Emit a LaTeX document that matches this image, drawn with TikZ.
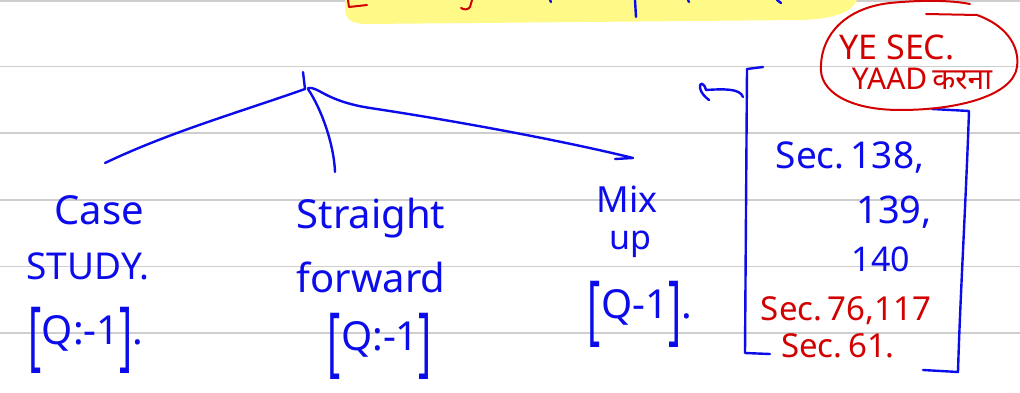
\documentclass[tikz,border=0pt]{standalone}
\usepackage{fontspec}
\setmainfont{Noto Sans}
\newfontfamily\devafont[Script=Devanagari]{Noto Sans}
\definecolor{ink}{RGB}{12,12,235}
\definecolor{redink}{RGB}{210,0,0}
\definecolor{rulegray}{RGB}{206,206,206}
\definecolor{hl}{RGB}{255,250,135}
\newcommand\tb[1]{\raisebox{-0.42em}{\scalebox{1}[1.9]{#1}}}
\newcommand\fs[1]{\fontsize{#1}{#1}\selectfont}
\begin{document}
\begin{tikzpicture}[x=1pt,y=-1pt,
 pen/.style={line width=2.4pt, line cap=round, line join=round, draw=ink},
 redpen/.style={line width=2pt, line cap=round, line join=round, draw=redink},
 hw/.style={text=ink, inner sep=0pt, font=\fs{40}},
 hwr/.style={hw, text=redink},
 ruled/.style={draw=rulegray, line width=1.6pt}]
\useasboundingbox (0,0) rectangle (1020,393);
\fill[white] (0,0) rectangle (1020,393);
\foreach \y in {1,66.5,133,200,266.5,333} \draw[ruled] (0,\y) -- (1020,\y);
% highlight strip at the top
\fill[hl] (345,0) -- (345,8) .. controls (345,20) and (352,24) .. (368,24) -- (800,20) .. controls (835,19) and (852,12) .. (857,0) -- cycle;
% cut-off writing inside the highlight
\draw[redpen] (348,0) -- (349,7) -- (367,5);
\draw[redpen] (472,0) -- (470,7) .. controls (468,10) and (464,10) .. (461,8);
\draw[pen] (635,0) -- (636,17);
\draw[pen] (550,0) -- (551,2);
\draw[pen] (688,0) -- (689,2);
\draw[pen] (777,0) -- (781,3);
% tree
\coordinate (root) at (305,89);
\coordinate (tick) at (303,72);
\coordinate (lend) at (105,163);
\coordinate (mend) at (335,172);
\coordinate (rend) at (633,158);
\coordinate (rtick) at (615,159);
\draw[pen] (tick) -- (root);
\draw[pen] (root) .. controls (240,112) and (170,132) .. (lend);
\draw[pen] (root) ++(3,0) .. controls (322,110) and (334,145) .. (mend);
\draw[pen] (root) ++(3,-1) .. controls (318,86) and (325,101) .. (370,108) .. controls (450,120) and (560,140) .. (rend) -- (rtick);
% left column
\node[hw] (case) at (99,210) {Case};
\node[hw, font=\fs{37}] (study) at (88,266) {STUDY.};
\node[hw] (q1) at (86,340) {\tb{[}Q:-1\tb{]}.};
% middle column
\node[hw] (straight) at (371,218) {Straight};
\node[hw] (forward) at (371,277) {forward};
\node[hw] (q2) at (380,346) {\tb{[}Q:-1\tb{]}};
% right column
\node[hw, font=\fs{36}] (mix) at (627,199) {Mix};
\node[hw, font=\fs{34}] (up) at (630,244) {up};
\node[hw] (q3) at (640,314) {\tb{[}Q-1\tb{]}.};
% bracketed list of sections
\draw[pen] (763,67) -- (747,69) -- (745,353) -- (770,354);
\draw[pen] (932,109) -- (969,111) .. controls (966,200) and (960,300) .. (958,372) -- (923,370);
\coordinate (abr) at (743,97);
\coordinate (atip) at (706,90);
\draw[pen] (abr) .. controls (740,88) and (722,89) .. (atip) .. controls (704,82) and (699,82) .. (700,88) .. controls (701,93) and (705,97) .. (709,100);
\node[hw, font=\fs{37}] (s138) at (850,157) {Sec.\,138,};
\node[hw, font=\fs{38}] (s139) at (894,212) {139,};
\node[hw, font=\fs{34}] (s140) at (881,259) {140};
\node[hwr, font=\fs{33}] (s76) at (846,311) {Sec.\,76,117};
\node[hwr, font=\fs{33}] (s61) at (838,346) {Sec.\,61.};
% red note
\draw[redpen] (926,14) -- (977,15) .. controls (1005,25) and (1020,45) .. (1017,67) .. controls (1013,95) and (960,110) .. (900,110) .. controls (850,110) and (818,92) .. (821,65) .. controls (822,35) and (845,8) .. (890,3) .. controls (920,0) and (950,0) .. (970,4);
\node[hwr, font=\fs{34}] (ye) at (897,47) {YE SEC.};
\node[hwr, font=\fs{30}] (yaad) at (922,79) {YAAD\,{\devafont करना}};
\end{tikzpicture}
\end{document}
